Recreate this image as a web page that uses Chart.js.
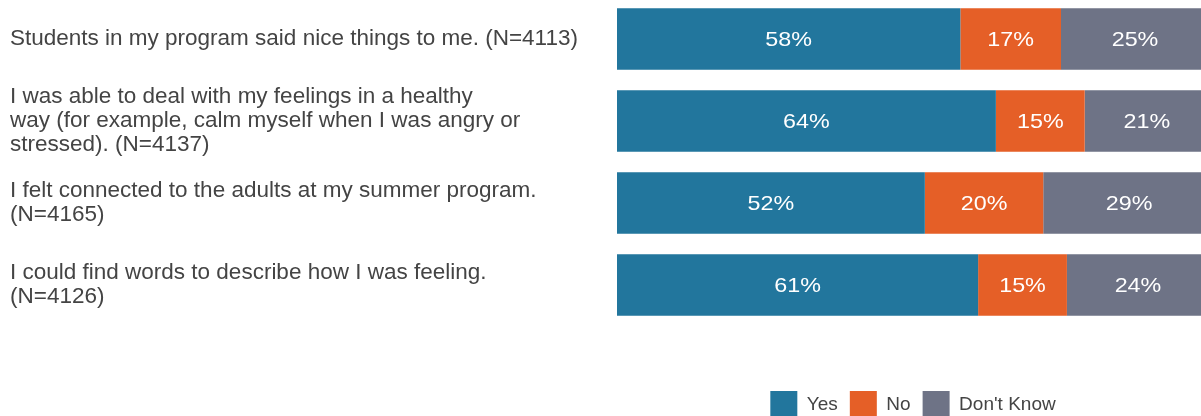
<!DOCTYPE html>
<html>
<head>
<meta charset="utf-8">
<script src="https://cdn.jsdelivr.net/npm/chart.js@4/dist/chart.umd.min.js"></script>
<style>
  html, body { margin: 0; padding: 0; background: #ffffff; overflow: hidden; }
  #wrap { position: relative; width: 1201px; height: 416px; overflow: hidden; }
  #wrap canvas { position: absolute; left: 0; top: -2px; }
</style>
</head>
<body>
<div id="wrap">
  <canvas id="chart" width="1209" height="430"></canvas>
</div>
<script>
// survey statements, one array of lines per row
const categories = [
  ['Students in my program said nice things to me. (N=4113)'],
  ['I was able to deal with my feelings in a healthy', 'way (for example, calm myself when I was angry or', 'stressed). (N=4137)'],
  ['I felt connected to the adults at my summer program.', '(N=4165)'],
  ['I could find words to describe how I was feeling.', '(N=4126)']
];

const seriesNames = ['Yes', 'No', "Don't Know"];
const yesValues = [58, 64, 52, 61];
const noValues = [17, 15, 20, 15];
const dontKnowValues = [25, 21, 29, 24];

const colors = ['#22769d', '#e55f27', '#6e7386'];
const textColor = '#444444';
const fontFamily = '"Liberation Sans", Arial, sans-serif';

// white percentage labels in the middle of each segment (slightly widened glyphs)
const segmentLabels = {
  id: 'segmentLabels',
  afterDatasetsDraw(chart) {
    const ctx = chart.ctx;
    ctx.save();
    ctx.fillStyle = '#ffffff';
    ctx.font = '21px ' + fontFamily;
    ctx.textAlign = 'center';
    ctx.textBaseline = 'middle';
    chart.data.datasets.forEach((ds, i) => {
      chart.getDatasetMeta(i).data.forEach((bar, j) => {
        const c = bar.getCenterPoint();
        ctx.save();
        ctx.translate(c.x, c.y + 1);
        ctx.scale(1.11, 1);
        ctx.fillText(ds.data[j] + '%', 0, 0);
        ctx.restore();
      });
    });
    ctx.restore();
  }
};

const valueSets = [yesValues, noValues, dontKnowValues];

new Chart(document.getElementById('chart'), {
  type: 'bar',
  data: {
    labels: categories,
    datasets: seriesNames.map((name, i) => ({
      label: name,
      data: valueSets[i],
      backgroundColor: colors[i],
      borderWidth: 0,
      categoryPercentage: 1,
      barPercentage: 0.75
    }))
  },
  options: {
    indexAxis: 'y',
    responsive: false,
    animation: false,
    layout: { padding: { left: 10, right: 0, top: 0, bottom: 0 } },
    scales: {
      x: {
        stacked: true,
        min: 0,
        max: 100,
        grid: { display: false },
        border: { display: false },
        ticks: { display: false },
        afterFit(scale) {
          // blank band between the bars and the legend
          scale.height = 53;
          scale.paddingLeft = 0;
          scale.paddingRight = 0;
        }
      },
      y: {
        stacked: true,
        grid: { display: false },
        border: { display: false },
        ticks: {
          color: textColor,
          crossAlign: 'far',
          padding: 0,
          font: { family: fontFamily, size: 22.5, lineHeight: '24px' }
        },
        afterFit(scale) {
          scale.width = 607;
          scale.paddingTop = 0;
          scale.paddingBottom = 0;
        }
      }
    },
    plugins: {
      tooltip: { enabled: false },
      legend: {
        position: 'bottom',
        fullSize: false,
        labels: {
          boxWidth: 27,
          boxHeight: 27,
          padding: 12,
          color: textColor,
          font: { family: fontFamily, size: 19 }
        }
      }
    }
  },
  plugins: [segmentLabels]
});
</script>
</body>
</html>
